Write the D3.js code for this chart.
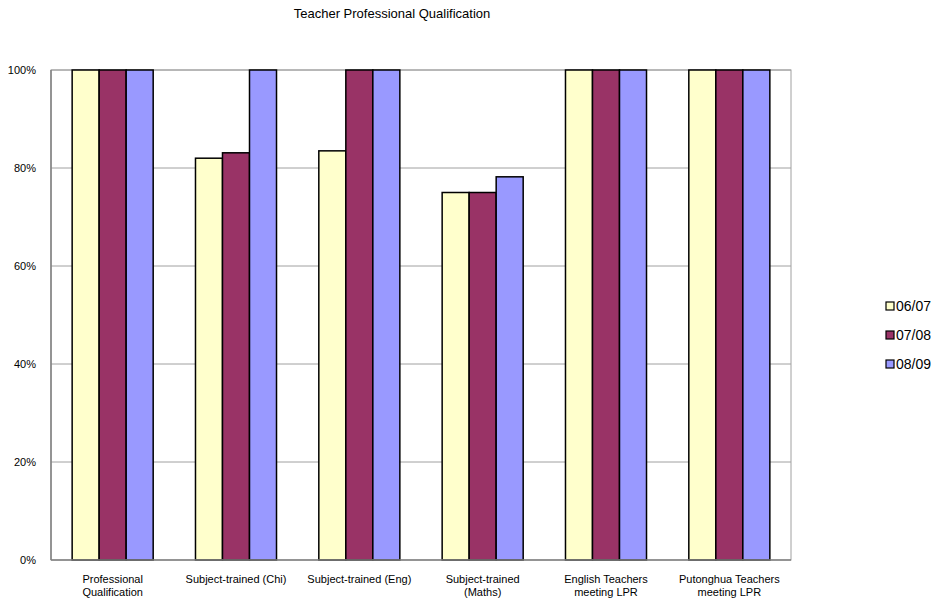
<!DOCTYPE html>
<html>
<head>
<meta charset="utf-8">
<script src="https://cdn.jsdelivr.net/npm/d3@7"></script>
<style>
  body { margin: 0; background: #fff; }
  svg { font-family: "Liberation Sans", Arial, sans-serif; }
</style>
</head>
<body>
<svg width="947" height="603"></svg>
<script>
var categories = [
  ["Professional", "Qualification"],
  ["Subject-trained (Chi)"],
  ["Subject-trained (Eng)"],
  ["Subject-trained", "(Maths)"],
  ["English Teachers", "meeting LPR"],
  ["Putonghua Teachers", "meeting LPR"]
];
var seriesNames = ["06/07", "07/08", "08/09"];
var seriesColors = ["#FFFFCC", "#993366", "#9999FF"];
var v0607 = [1.00, 0.82, 0.835, 0.75, 1.00, 1.00];
var v0708 = [1.00, 0.831, 1.00, 0.75, 1.00, 1.00];
var v0809 = [1.00, 1.00, 1.00, 0.782, 1.00, 1.00];
var tickValues = [0, 0.2, 0.4, 0.6, 0.8, 1.0];

var values = [v0607, v0708, v0809];
var svg = d3.select("svg");
var pLeft = 51, pRight = 791, pTop = 70, pBottom = 560;

var x = d3.scaleBand()
    .domain(d3.range(categories.length))
    .range([pLeft, pRight])
    .paddingInner(0.343)
    .paddingOuter(0.1715);
var xs = d3.scaleBand()
    .domain(d3.range(seriesNames.length))
    .range([0, x.bandwidth()]);
var y = d3.scaleLinear().domain([0, 1]).range([pBottom, pTop]);

// title
svg.append("text")
    .attr("x", 392).attr("y", 18)
    .attr("text-anchor", "middle")
    .attr("font-size", 13)
    .text("Teacher Professional Qualification");

// gridlines
svg.append("g")
    .selectAll("line")
    .data(tickValues.filter(d => d > 0))
    .enter().append("line")
    .attr("x1", pLeft).attr("x2", pRight)
    .attr("y1", d => y(d)).attr("y2", d => y(d))
    .attr("stroke", "#a0a0a0").attr("stroke-width", 1);

// frame
svg.append("rect")
    .attr("x", pLeft).attr("y", pTop)
    .attr("width", pRight - pLeft).attr("height", pBottom - pTop)
    .attr("fill", "none").attr("stroke", "#a0a0a0").attr("stroke-width", 1);

// y labels
svg.append("g")
    .selectAll("text")
    .data(tickValues)
    .enter().append("text")
    .attr("x", 36)
    .attr("y", d => y(d) + 4)
    .attr("text-anchor", "end")
    .attr("font-size", 11)
    .text(d => d3.format(".0%")(d));

// bars
var groups = svg.append("g")
    .selectAll("g")
    .data(values)
    .enter().append("g")
    .attr("fill", (d, i) => seriesColors[i]);

groups.each(function(vals, si) {
  d3.select(this).selectAll("rect")
    .data(vals)
    .enter().append("rect")
    .attr("x", (d, i) => x(i) + xs(si))
    .attr("y", d => y(d))
    .attr("width", xs.bandwidth())
    .attr("height", d => pBottom - y(d))
    .attr("stroke", "#000")
    .attr("stroke-width", 1.5);
});

// axis lines (gray, slightly thicker)
svg.append("line")
    .attr("x1", pLeft).attr("x2", pLeft).attr("y1", pTop).attr("y2", pBottom)
    .attr("stroke", "#808080").attr("stroke-width", 1.5);
svg.append("line")
    .attr("x1", pLeft).attr("x2", pRight).attr("y1", pBottom).attr("y2", pBottom)
    .attr("stroke", "#808080").attr("stroke-width", 1.5);

// x labels
var xl = svg.append("g")
    .selectAll("text")
    .data(categories)
    .enter().append("text")
    .attr("text-anchor", "middle")
    .attr("font-size", 11)
    .attr("transform", (d, i) => "translate(" + (x(i) + x.bandwidth() / 2) + ",583)");
xl.selectAll("tspan")
    .data(d => d)
    .enter().append("tspan")
    .attr("x", 0)
    .attr("dy", (d, i) => i === 0 ? 0 : 13)
    .text(d => d);

// legend
var lg = svg.append("g")
    .selectAll("g")
    .data(seriesNames)
    .enter().append("g")
    .attr("transform", (d, i) => "translate(886," + (307 + i * 29) + ")");
lg.append("rect")
    .attr("x", 0).attr("y", -5)
    .attr("width", 8).attr("height", 8)
    .attr("fill", (d, i) => seriesColors[i])
    .attr("stroke", "#000").attr("stroke-width", 1.2);
lg.append("text")
    .attr("x", 10).attr("y", 4)
    .attr("font-size", 14)
    .text(d => d);
</script>
</body>
</html>
